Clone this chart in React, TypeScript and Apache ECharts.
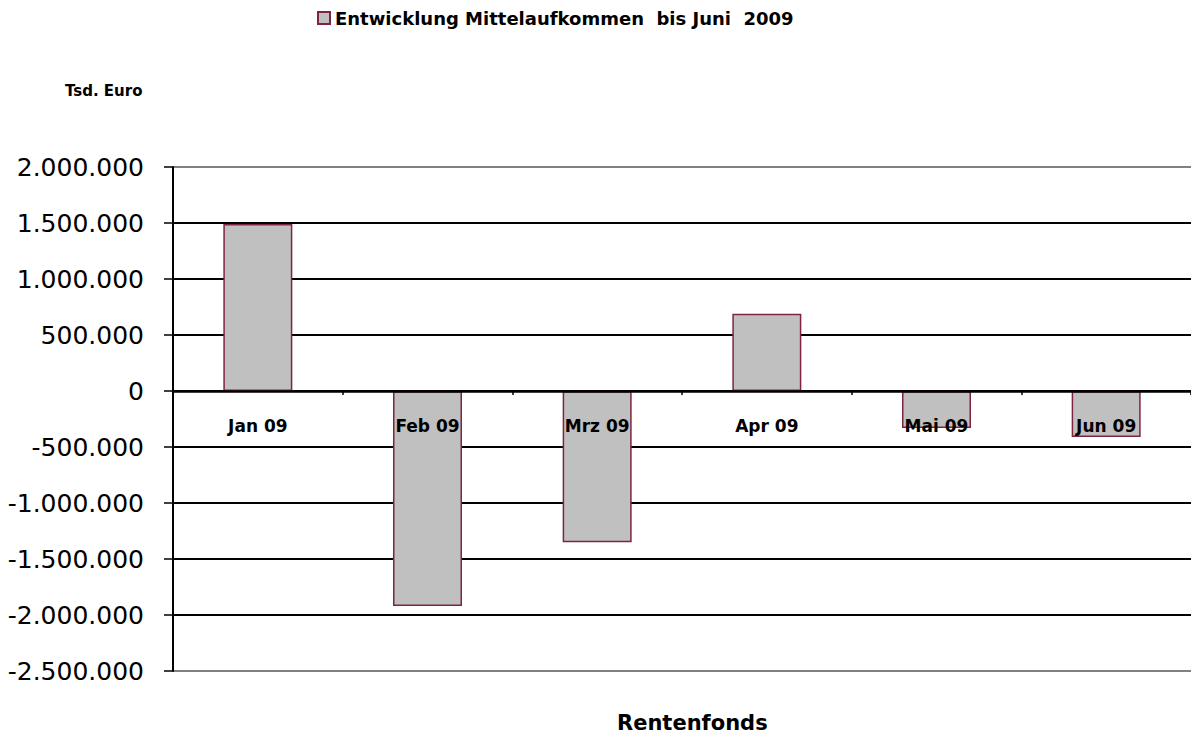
import React, { useEffect, useRef } from "react";
import * as echarts from "echarts";

const categories = ["Jan 09", "Feb 09", "Mrz 09", "Apr 09", "Mai 09", "Jun 09"];
const values = [1490000, -1920000, -1350000, 690000, -330000, -410000];
const seriesName = "Entwicklung Mittelaufkommen  bis Juni  2009";
const yAxisTitle = "Tsd. Euro";
const xAxisTitle = "Rentenfonds";

const fmt = (v: number) => {
  const s = Math.abs(v).toString().replace(/\B(?=(\d{3})+(?!\d))/g, ".");
  return (v < 0 ? "-" : "") + s;
};

export default function App() {
  const ref = useRef<HTMLDivElement>(null);
  useEffect(() => {
    document.body.style.margin = "0";
    const chart = echarts.init(ref.current!, undefined, { renderer: "svg" });
    const font = "'DejaVu Sans', Verdana, sans-serif";
    chart.setOption({
      animation: false,
      backgroundColor: "#ffffff",
      textStyle: { fontFamily: font },
      title: [
        {
          text: yAxisTitle,
          left: 65,
          top: 83,
          padding: 0,
          textStyle: { fontSize: 15, fontWeight: "bold", color: "#000", fontFamily: font },
        },
        {
          text: xAxisTitle,
          left: 617,
          top: 712,
          padding: 0,
          textStyle: { fontSize: 21, fontWeight: "bold", color: "#000", fontFamily: font },
        },
      ],
      legend: {
        left: 312,
        top: 4,
        icon: "rect",
        itemWidth: 12,
        itemHeight: 12,
        itemGap: 4,
        textStyle: { fontSize: 18, fontWeight: "bold", color: "#000", fontFamily: font },
        data: [seriesName],
      },
      grid: { left: 173, top: 167, width: 1026, height: 504, containLabel: false },
      xAxis: {
        type: "category",
        data: categories,
        z: 5,
        axisLine: { onZero: true, lineStyle: { color: "#000", width: 2.5 } },
        axisTick: { show: true, length: 4, lineStyle: { color: "#000", width: 1.5 } },
        axisLabel: { margin: -254, fontSize: 17, fontWeight: "bold", color: "#000", fontFamily: font },
        splitLine: { show: false },
      },
      yAxis: {
        type: "value",
        min: -2500000,
        max: 2000000,
        interval: 500000,
        axisLine: { show: true, lineStyle: { color: "#000", width: 2 } },
        axisTick: { show: true, inside: false, length: 9, lineStyle: { color: "#000", width: 1.5 } },
        axisLabel: {
          margin: 29,
          fontSize: 25,
          color: "#000",
          fontFamily: font,
          formatter: (v: number) => fmt(v),
        },
        splitLine: {
          show: true,
          lineStyle: {
            color: ["#808080", "#000", "#000", "#000", "#000", "#000", "#000", "#000", "#000", "#808080"],
            width: 2,
          },
        },
      },
      series: [
        {
          name: seriesName,
          type: "bar",
          data: values,
          barWidth: 69,
          itemStyle: { color: "#C0C0C0", borderColor: "#7F2440", borderWidth: 1.5 },
        },
      ],
    });
    return () => chart.dispose();
  }, []);
  return <div ref={ref} style={{ width: 1191, height: 738 }} />;
}
